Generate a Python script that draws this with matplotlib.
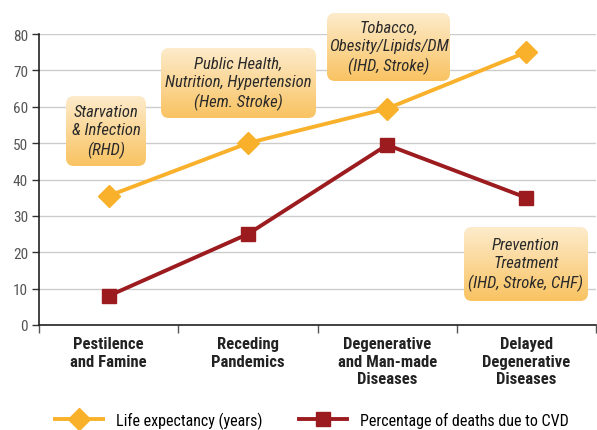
import numpy as np
import matplotlib.pyplot as plt
from matplotlib.patches import FancyBboxPatch
from matplotlib.lines import Line2D

# data
categories = ["Pestilence\nand Famine", "Receding\nPandemics",
              "Degenerative\nand Man-made\nDiseases", "Delayed\nDegenerative\nDiseases"]
life_expectancy = [35.5, 50, 59.5, 75]
cvd_deaths = [8, 25, 49.5, 35]
notes = ["Starvation\n& Infection\n(RHD)",
         "Public Health,\nNutrition, Hypertension\n(Hem. Stroke)",
         "Tobacco,\nObesity/Lipids/DM\n(IHD, Stroke)",
         "Prevention\nTreatment\n(IHD, Stroke, CHF)"]

orange = "#F9B12B"
darkred = "#9B1B1F"
font = ["Roboto Condensed", "Liberation Sans Narrow", "Roboto", "DejaVu Sans"]
plt.rcParams["font.family"] = font

W, H = 597, 431
fig = plt.figure(figsize=(W / 100, H / 100), dpi=100)
ax = fig.add_axes([39 / W, 105 / H, 557 / W, 291 / H])

x = np.arange(len(categories))
ax.plot(x, life_expectancy, color=orange, lw=2.8, marker="D", ms=11,
        label="Life expectancy (years)", zorder=3, clip_on=False)
ax.plot(x, cvd_deaths, color=darkred, lw=2.8, marker="s", ms=10.5,
        label="Percentage of deaths due to CVD", zorder=3, clip_on=False)

ax.set_xlim(-0.5, len(categories) - 0.5)
ax.set_ylim(0, 80)
ax.set_yticks(range(0, 81, 10))
ax.set_xticks(x)
ax.set_xticklabels(categories, fontsize=12, fontweight="bold", color="#222222",
                   linespacing=1.2)
ax.set_xticks(np.arange(-0.5, len(categories)), minor=True)
ax.tick_params(axis="x", which="major", length=0, pad=8)
ax.tick_params(axis="x", which="minor", length=6, width=1, color="#555555")
ax.tick_params(axis="y", length=5, width=1, labelsize=11, labelcolor="#555555",
               color="#333333", pad=3)
ax.yaxis.grid(True, color="#cccccc", lw=1)
ax.set_axisbelow(True)
for s in ["top", "right"]:
    ax.spines[s].set_visible(False)
for s in ["left", "bottom"]:
    ax.spines[s].set_color("#222222")
    ax.spines[s].set_linewidth(1.2)

# annotation boxes in pixel coordinates
ov = fig.add_axes([0, 0, 1, 1], zorder=5)
boxes = [(66, 97, 80, 70), (161, 49, 155, 70), (327, 14, 123, 68), (464, 228, 124, 74)]
grad = np.linspace(0, 1, 100).reshape(-1, 1)
cmap = plt.matplotlib.colors.LinearSegmentedColormap.from_list("g", ["#FDEBCB", "#F9C362"])
for (bx, by, bw, bh), txt in zip(boxes, notes):
    p = FancyBboxPatch((bx, by), bw, bh, boxstyle="round,pad=0,rounding_size=8",
                       fc="none", ec="none")
    ov.add_patch(p)
    im = ov.imshow(grad, cmap=cmap, extent=(bx, bx + bw, by + bh, by),
                   aspect="auto", interpolation="bilinear")
    im.set_clip_path(p)
    ov.text(bx + bw / 2, by + bh / 2, txt, ha="center", va="center",
            fontsize=12, style="italic", color="#2a2a2a", linespacing=1.25)
ov.set_xlim(0, W)
ov.set_ylim(H, 0)
ov.axis("off")

handles = [Line2D([], [], color=orange, lw=2.8, marker="D", ms=11),
           Line2D([], [], color=darkred, lw=2.8, marker="s", ms=10.5)]
fig.legend(handles, ["Life expectancy (years)", "Percentage of deaths due to CVD"],
           loc="center", bbox_to_anchor=(0.522, 10 / H), ncol=2, frameon=False,
           fontsize=11.5, handlelength=3.0, columnspacing=2.3, handletextpad=0.8,
           borderaxespad=0)

fig.savefig("out.png", dpi=100)
